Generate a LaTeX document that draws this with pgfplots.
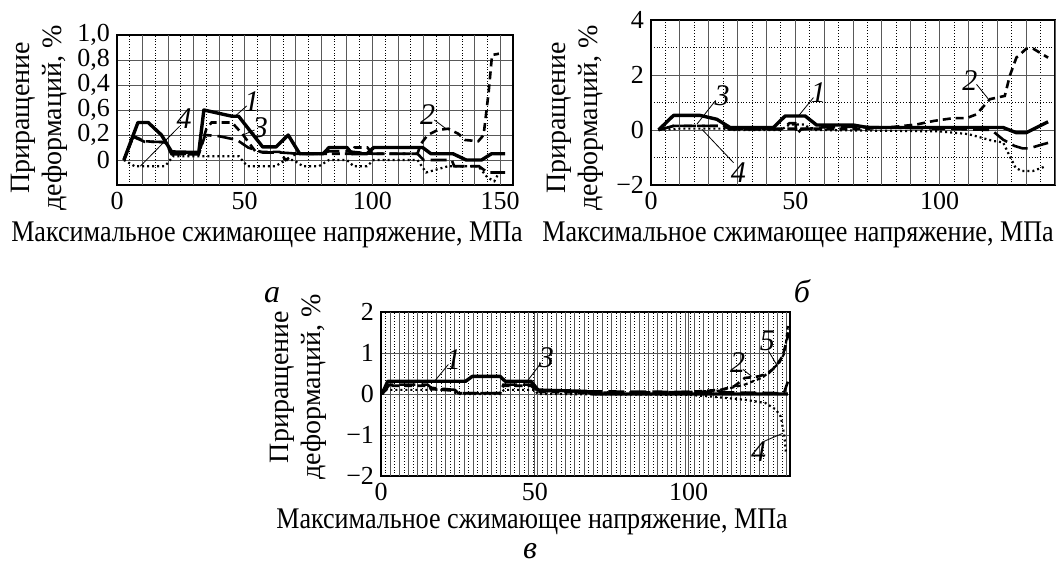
\documentclass[border=0pt]{standalone}
\usepackage{fontspec}
\setmainfont{Liberation Serif}
\newfontfamily\condfont[FakeStretch=0.87]{Liberation Serif}
\usepackage{pgfplots}
\pgfplotsset{compat=1.18}
\newcommand\fs{\fontsize{13}{12}\selectfont}
\newcommand\xlfont{\condfont\fontsize{15}{15}\selectfont}
\newcommand\ylfont{\fontsize{14}{16}\selectfont}
\pgfplotsset{
  panel/.style={
    scale only axis, anchor=south west,
    axis line style={black, line width=0.6pt},
    tick style={draw=none},
    grid=both,
    minor grid style={black, densely dotted, line width=0.4pt},
    major grid style={black!65, line width=0.45pt},
    tick label style={font=\fs},
    extra x tick labels={},
    extra x tick style={grid=major},
  },
}
\tikzset{
  c1/.style={black, line width=1.7pt, line join=round},
  c2/.style={black, line width=1.3pt, dash pattern=on 4pt off 2.5pt},
  c3/.style={black, line width=1.3pt, dash pattern=on 8pt off 3pt},
  c4/.style={black, line width=1.1pt, dash pattern=on 1pt off 1.5pt},
  c5/.style={black, line width=1.1pt, dash pattern=on 2pt off 1.5pt},
  ann/.style={black, line width=0.4pt},
  annt/.style={font=\fontsize{15}{15}\selectfont\itshape, inner sep=0pt},
}
\begin{document}
\begin{tikzpicture}
\useasboundingbox (0,0) rectangle (529pt,285.5pt);
% ---------------- panel a
\begin{axis}[panel, at={(58.5pt,193pt)}, width=198pt, height=75pt,
  xmin=0, xmax=155, ymin=-0.2, ymax=1.0,
  xtick={0,50,100,150}, xticklabels={0,50,100,150},
  minor xtick={5,15,...,155},
  extra x ticks={10,20,...,150},
  ytick={-0.2,0,0.2,0.4,0.6,0.8,1.0},
  yticklabels={,0,{0,2},{0,6},{0,4},{0,8},{1,0}},
]
\addplot[c1] coordinates {(2.7,0)(8.2,0.30)(12.2,0.30)(17.4,0.20)(21.4,0.065)(32,0.06)(34,0.40)(45,0.35)(47.6,0.35)(57,0.105)(62.3,0.105)(67,0.2)(71.5,0.05)(80.7,0.05)(83,0.1)(90,0.1)(92,0.05)(97.8,0.05)(100.5,0.1)(119.6,0.1)(122.9,0.05)(131.5,0.05)(136.7,0.0)(142.7,0.0)(146.6,0.05)(151.9,0.05)};
\addplot[c2] coordinates {(2.7,0)(6.5,0.19)(11,0.15)(19,0.14)(21.4,0.05)(32,0.05)(35,0.25)(37,0.30)(45,0.30)(49,0.21)(54.3,0.065)(63.6,0.065)(66,0.0)(70,0.05)(92,0.05)(93,0.1)(98,0.1)(100,0.05)(117.6,0.05)(119,0.13)(121.6,0.2)(125.6,0.24)(129.6,0.25)(133.6,0.21)(136.3,0.16)(141.4,0.15)(143.5,0.2)(145.5,0.55)(146.8,0.84)(149.5,0.85)};
\addplot[c3] coordinates {(2.7,0)(6.3,0.186)(10.9,0.145)(18.8,0.145)(21.4,0.045)(32,0.045)(34.5,0.2)(40,0.19)(47,0.16)(51.3,0.1)(57,0.06)(64,0.06)(71,0.05)(80,0.05)(83,0.07)(90,0.07)(99.6,0.05)(117.6,0.05)(120,0.0)(131,0.0)(132,-0.05)(141.7,-0.05)(145,-0.1)(151.9,-0.1)};
\addplot[c4] coordinates {(2.7,0)(6.9,-0.05)(18.8,-0.05)(22,0.03)(34,0.03)(47.7,0.03)(51,-0.05)(62,-0.05)(66,0.0)(69,0.0)(72.8,-0.05)(79,-0.05)(83,0)(90,0)(92.6,-0.05)(97.8,-0.05)(100.5,0)(117.6,0)(121,-0.1)(129.6,-0.05)(141.4,-0.05)(145,-0.14)(147.7,-0.17)(149,-0.12)};
\draw[ann] (axis cs:50.8,0.433) -- (axis cs:46.2,0.35);
\node[annt] at (axis cs:52.8,0.47) {1};
\draw[ann] (axis cs:53.8,0.24) -- (axis cs:48.8,0.195);
\node[annt] at (axis cs:56.1,0.26) {3};
\draw[ann] (axis cs:24.5,0.27) -- (axis cs:9.1,-0.05);
\node[annt] at (axis cs:26.3,0.33) {4};
\draw[ann] (axis cs:124.2,0.32) -- (axis cs:128.8,0.25);
\node[annt] at (axis cs:121.6,0.36) {2};
\end{axis}
% ---------------- panel b
\begin{axis}[panel, at={(325.5pt,193pt)}, width=202pt, height=82.5pt,
  xmin=0, xmax=140, ymin=-2, ymax=4,
  xtick={0,50,100}, xticklabels={0,50,100},
  minor xtick={5,15,...,135},
  extra x ticks={10,20,...,140},
  ytick={-2,0,2,4}, yticklabels={−2,0,2,4},
  minor ytick={-1,1,3},
]
\addplot[c1] coordinates {(2.6,0)(7.8,0.53)(17,0.53)(22.8,0.39)(27.4,0.09)(42.4,0.09)(46.5,0.51)(53.4,0.51)(57.4,0.18)(70.1,0.18)(75,0.09)(122,0.09)(126.6,-0.1)(130,-0.1)(133.6,0.09)(137.6,0.3)};
\addplot[c2] coordinates {(2.6,0)(7.8,0.15)(25,0.15)(27.4,0.05)(75,0.05)(85,0.12)(92,0.2)(98,0.33)(104.7,0.43)(109.3,0.43)(112.8,0.57)(117.4,1.12)(122.6,1.24)(124.3,1.96)(126.6,2.63)(130.1,2.96)(132.4,2.96)(137.6,2.63)};
\addplot[c3] coordinates {(2.6,0)(7.8,0.15)(25,0.15)(27.4,0.02)(45,0.02)(48,0.25)(50,0.25)(50.5,-0.15)(52,0.02)(60,0.1)(70,0.12)(100,0.05)(118,0.0)(119.7,-0.15)(122,-0.35)(126,-0.58)(128.8,-0.67)(131,-0.67)(135.8,-0.52)(137.6,-0.47)};
\addplot[c4] coordinates {(2.6,0)(10,0.05)(25,0.05)(28,0.0)(45,0)(48,0.2)(53,0.2)(56,0.0)(100,-0.05)(110,-0.15)(118.6,-0.4)(122,-0.45)(124.3,-0.95)(126.3,-1.37)(128.4,-1.49)(132.4,-1.49)(137,-1.31)};
\draw[ann] (axis cs:22.2,1.05) -- (axis cs:15.9,0.21);
\node[annt] at (axis cs:24.6,1.24) {3};
\draw[ann] (axis cs:28.6,-1.19) -- (axis cs:17.6,0.03);
\node[annt] at (axis cs:30.3,-1.55) {4};
\draw[ann] (axis cs:56.3,1.18) -- (axis cs:51.1,0.51);
\node[annt] at (axis cs:58,1.36) {1};
\draw[ann] (axis cs:112.8,1.66) -- (axis cs:116.8,1.14);
\node[annt] at (axis cs:110.5,1.78) {2};
\end{axis}
% ---------------- panel c
\begin{axis}[panel, at={(190.5pt,47.5pt)}, width=204.5pt, height=82pt,
  xmin=0, xmax=133, ymin=-2, ymax=2,
  xtick={0,50,100}, xticklabels={0,50,100},
  minor xtick={1.5,4.5,...,132},
  extra x ticks={3,6,...,132},
  ytick={-2,-1,0,1,2}, yticklabels={−2,−1,0,1,2},
]
\addplot[c1] coordinates {(0.3,0)(2.2,0.31)(27.5,0.31)(29.7,0.43)(38.7,0.43)(40.4,0.31)(48.8,0.31)(51,0.1)(53.3,0.09)(66.7,0.065)(69,0)(132.3,0)};
\addplot[c2] coordinates {(0.3,0)(2.8,0.2)(15,0.2)(16.3,0.12)(24,0.08)(25.2,0.02)(38.7,0.02)(39.8,0.2)(48.8,0.2)(51,0.05)(70,0.03)(100,0.05)(110.4,0.1)(114.9,0.19)(118.3,0.39)(122.8,0.43)(126.1,0.51)(128.4,0.68)(130.6,0.92)(132.3,1.41)(132.6,1.62)};
\addplot[c3] coordinates {(0.3,0)(2.8,0.23)(15.1,0.23)(16.3,0.15)(24,0.1)(25.2,0.02)(38.7,0.02)(39.8,0.23)(48.8,0.23)(51,0.07)(100,0.05)(131,0.02)(132.3,0.3)};
\addplot[c4] coordinates {(0.3,0)(1.7,0.1)(23,0.1)(24.7,0)(38.7,0)(40,0.1)(50,0.1)(51,0)(100,-0.02)(107,-0.06)(118.3,-0.14)(125,-0.22)(128.4,-0.38)(130,-0.55)(130.6,-0.8)(131.2,-1.04)(131.7,-1.45)};
\addplot[c5] coordinates {(100,0.05)(110,0.08)(118.3,0.23)(124,0.4)(127.2,0.6)(129.5,0.76)(131.2,1.0)(131.7,1.25)(132.3,1.66)};
\draw[ann] (axis cs:21.9,0.72) -- (axis cs:17.4,0.31);
\node[annt] at (axis cs:23.5,0.84) {1};
\draw[ann] (axis cs:52.1,0.76) -- (axis cs:47.1,0.27);
\node[annt] at (axis cs:53.8,0.88) {3};
\draw[ann] (axis cs:117.7,0.6) -- (axis cs:120.5,0.43);
\node[annt] at (axis cs:116,0.76) {2};
\draw[ann] (axis cs:126.1,1.04) -- (axis cs:128.9,0.68);
\node[annt] at (axis cs:125.6,1.29) {5};
\draw[ann] (axis cs:124.4,-1.16) -- (axis cs:130.6,-0.96);
\node[annt] at (axis cs:122.8,-1.4) {4};
\end{axis}
% ---------------- labels
\node[anchor=base, inner sep=0pt, font=\xlfont] at (133.5pt,164.5pt) {Максимальное сжимающее напряжение, МПа};
\node[anchor=base, inner sep=0pt, font=\xlfont] at (399pt,164.5pt) {Максимальное сжимающее напряжение, МПа};
\node[anchor=base, inner sep=0pt, font=\xlfont] at (266pt,21pt) {Максимальное сжимающее напряжение, МПа};
\node[rotate=90, align=center, inner sep=0pt, font=\ylfont] at (19.5pt,226.5pt) {Приращение\\деформаций, \%};
\node[rotate=90, align=center, inner sep=0pt, font=\ylfont] at (287.5pt,226.5pt) {Приращение\\деформаций, \%};
\node[rotate=90, align=center, inner sep=0pt, font=\ylfont] at (149pt,92pt) {Приращение\\деформаций, \%};
\node[anchor=base, inner sep=0pt, font=\fontsize{16}{16}\selectfont\itshape] at (136pt,134pt) {а};
\node[anchor=base, inner sep=0pt, font=\fontsize{16}{16}\selectfont\itshape] at (401pt,134pt) {б};
\node[anchor=base, inner sep=0pt, font=\fontsize{16}{16}\selectfont\itshape] at (265pt,6pt) {в};
\end{tikzpicture}
\end{document}
